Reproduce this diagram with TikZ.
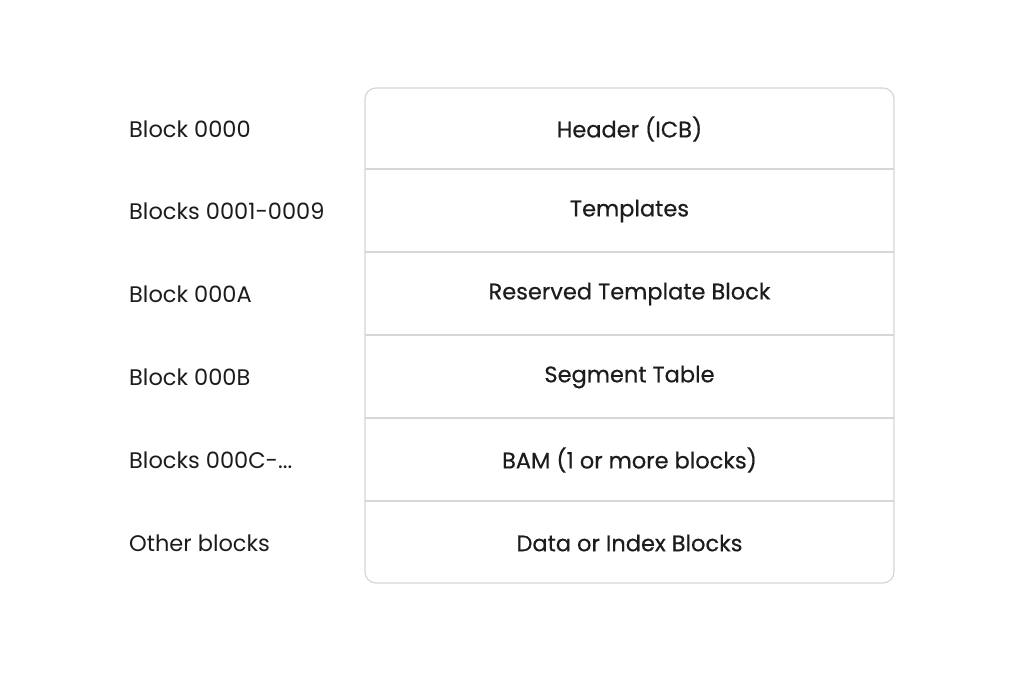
\documentclass[tikz,border=0pt]{standalone}
\usepackage{fontspec}
\setmainfont{Poppins}
\newfontfamily\medfont{Poppins}[FakeBold=0.5]
\definecolor{txt}{HTML}{1C1C1C}
\definecolor{grid}{HTML}{D6D6D6}
\begin{document}
\begin{tikzpicture}[x=1pt,y=-1pt,
  lab/.style={anchor=west,font=\fontsize{22.5}{24}\selectfont,text=txt,inner sep=0},
  cell/.style={font=\medfont\fontsize{22.5}{24}\selectfont,text=txt,inner sep=0}]
\useasboundingbox (0,0) rectangle (1025,672);
\draw[grid,line width=1.2pt,rounded corners=11pt] (365,88) rectangle (894,583);
\foreach \y in {169,252,335,418,501}
  \draw[grid,line width=1.2pt] (365,\y) -- (894,\y);
\node[cell] (r1) at (629.5,129) {Header (ICB)};
\node[cell] (r2) at (629.5,211) {Templates};
\node[cell] (r3) at (629.5,294) {Reserved Template Block};
\node[cell] (r4) at (629.5,377) {Segment Table};
\node[cell] (r5) at (629.5,460) {BAM (1 or more blocks)};
\node[cell] (r6) at (629.5,543) {Data or Index Blocks};
\node[lab] (l1) at (129,129) {Block 0000};
\node[lab] (l2) at (129,211) {Blocks 0001-0009};
\node[lab] (l3) at (129,294) {Block 000A};
\node[lab] (l4) at (129,377) {Block 000B};
\node[lab] (l5) at (129,460) {Blocks 000C-...};
\node[lab] (l6) at (129,543) {Other blocks};
\end{tikzpicture}
\end{document}
